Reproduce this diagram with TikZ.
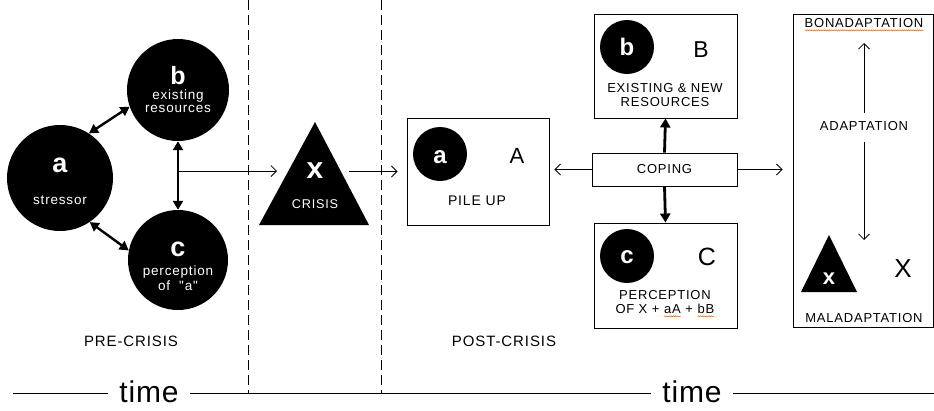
\documentclass[tikz,border=0pt]{standalone}
\usepackage{fontspec}
\setmainfont{Liberation Sans}[LetterSpace=6,Ligatures=TeXOff]
\usetikzlibrary{arrows.meta,calc,decorations.pathmorphing}
\tikzset{
  spell/.style={draw=orange!80!red,line width=0.5pt,decorate,
    decoration={snake,amplitude=0.6pt,segment length=2.2pt}}
}
% word with a wavy proof-reading underline
\newcommand\spellmark[1]{\tikz[baseline=(w.base)]{\node[inner sep=0pt,outer sep=0pt] (w) {#1};
  \draw[spell] ([yshift=-2.5pt]w.base west) -- ([yshift=-2.5pt]w.base east);}}
\begin{document}
\begin{tikzpicture}[x=1pt,y=-1pt,
  blob/.style={circle,fill=black,inner sep=0pt,minimum size=#1},
  lbl/.style={font=\fontsize{13}{14}\selectfont,align=center,inner sep=0pt},
  phase/.style={font=\fontsize{15}{16}\selectfont,inner sep=0pt},
  wlbl/.style={font=\fontsize{13.5}{14}\selectfont,align=center,inner sep=0pt,text=white},
  bigw/.style={font=\fontsize{#1}{#1}\selectfont\bfseries,text=white,inner sep=0pt,anchor=base},
  bigk/.style={font=\fontsize{#1}{#1}\selectfont,inner sep=0pt,anchor=base},
  frame/.style={draw,line width=0.9pt,inner sep=0pt},
  thinarr/.style={line width=0.8pt,-{Straight Barb[length=5.5pt,width=11pt]}},
  thickarr/.style={line width=2.8pt,-{Triangle[length=9pt,width=10pt]}},
  dblarr/.style={line width=2.4pt,{Triangle[length=9pt,width=10pt]}-{Triangle[length=9pt,width=10pt]}},
  divider/.style={line width=0.8pt,dash pattern=on 10pt off 5pt},
  timelbl/.style={font=\addfontfeature{LetterSpace=3}\fontsize{30}{30}\selectfont,fill=white,inner xsep=11pt,inner ysep=0pt}
]
\useasboundingbox (0,0) rectangle (934,410);

% ---- phase dividers and time axis ----
\draw[divider] (248,0) -- (248,393);
\draw[divider] (381,0) -- (381,393);
\draw[line width=0.9pt] (13,393) -- (934,393);
\node[timelbl] (time1) at (149,392) {time};
\node[timelbl] (time2) at (692,392) {time};
\node[phase] (pre) at (131,341) {PRE-CRISIS};
\node[phase] (post) at (504,341) {POST-CRISIS};

% ---- pre-crisis: stressor, resources, perception ----
\node[blob=106pt] (ca) at (60,178) {};
\node[bigw=27] (ca-l) at (60,172) {a};
\node[wlbl] (ca-t) at (60,200) {stressor};

\node[blob=102pt] (cb) at (178,90) {};
\node[bigw=25] (cb-l) at (178,84) {b};
\node[wlbl,font=\fontsize{13.5}{13}\selectfont] (cb-t) at (178,101) {existing\\resources};

\node[blob=100pt] (cc) at (178,260) {};
\node[bigw=27] (cc-l) at (178,256) {c};
\node[wlbl,font=\fontsize{13.5}{15}\selectfont] (cc-t) at (178,278) {perception\\of\ \ "a"};

\draw[dblarr] (ca.57) -- (cb.199);
\draw[dblarr] (ca.-56) -- (cc.169);
\draw[dblarr] (cb.south) -- (cc.north);

% ---- crisis triangle ----
\fill (315,122) -- (369,225) -- (259,225) -- cycle;
\node[bigw=30] (x-l) at (315,178) {x};
\node[wlbl,font=\fontsize{12.7}{14}\selectfont] (x-t) at (315,204) {CRISIS};
\coordinate (bcjoin) at (178,171);
\coordinate (xin) at (277,171);
\coordinate (xout) at (349,171.5);
\draw[thinarr] (bcjoin) -- (xin);

% ---- post-crisis: pile up ----
\node[frame,minimum width=142pt,minimum height=107pt] (boxa) at (478,171.5) {};
\node[blob=54pt] (sa) at (440,154) {};
\node[bigw=24] (sa-l) at (440,163) {a};
\node[bigk=22] (sa-A) at (517,163) {A};
\node[lbl,font=\fontsize{14}{14}\selectfont] (sa-t) at (477,201) {PILE UP};
\draw[thinarr,shorten >=9pt] (xout) -- (boxa.west);

% ---- resources ----
\node[frame,minimum width=143pt,minimum height=104pt] (boxb) at (665.5,66) {};
\node[blob=54pt] (sb) at (627,47) {};
\node[bigw=24] (sb-l) at (627,55) {b};
\node[bigk=23] (sb-B) at (701,57) {B};
\node[lbl] (sb-t) at (665,95) {EXISTING \& NEW\\RESOURCES};

% ---- perception ----
\node[frame,minimum width=143pt,minimum height=105pt] (boxc) at (665.5,275.5) {};
\node[blob=54pt] (sc) at (627,256) {};
\node[bigw=24] (sc-l) at (627,263) {c};
\node[bigk=25] (sc-C) at (707,265) {C};
\node[lbl] (sc-t) at (665,304) {PERCEPTION\\OF X + \spellmark{aA} + \spellmark{bB}};

% ---- coping ----
\node[frame,minimum width=145pt,minimum height=33pt,lbl] (cope) at (664.5,169.5) {COPING};
\draw[thinarr,shorten >=5pt] (cope.west) -- (boxa.east |- cope.west);
\draw[thickarr] (cope.north) -- (boxb.south);
\draw[thickarr] (cope.south) -- (boxc.north);

% ---- adaptation outcome ----
\node[frame,minimum width=140pt,minimum height=313pt] (boxd) at (863,170.5) {};
\draw[thinarr,shorten >=10pt] (cope.east) -- (boxd.west |- cope.east);
\node[lbl] (bona) at (864,25) {\spellmark{BONADAPTATION}};
\node[lbl] (adapt) at (864,126) {ADAPTATION};
\node[lbl] (mala) at (864,318) {MALADAPTATION};
\coordinate (uptip) at (864,43);
\coordinate (downtip) at (864,240);
\draw[thinarr] (adapt.north |- 0,113) -- (uptip);
\draw[thinarr] (adapt.south |- 0,142) -- (downtip);
\fill (829,235) -- (857,292) -- (801,292) -- cycle;
\node[bigw=22] (dx-l) at (829,284) {x};
\node[bigk=26] (dx-X) at (903,277) {X};
\end{tikzpicture}
\end{document}
